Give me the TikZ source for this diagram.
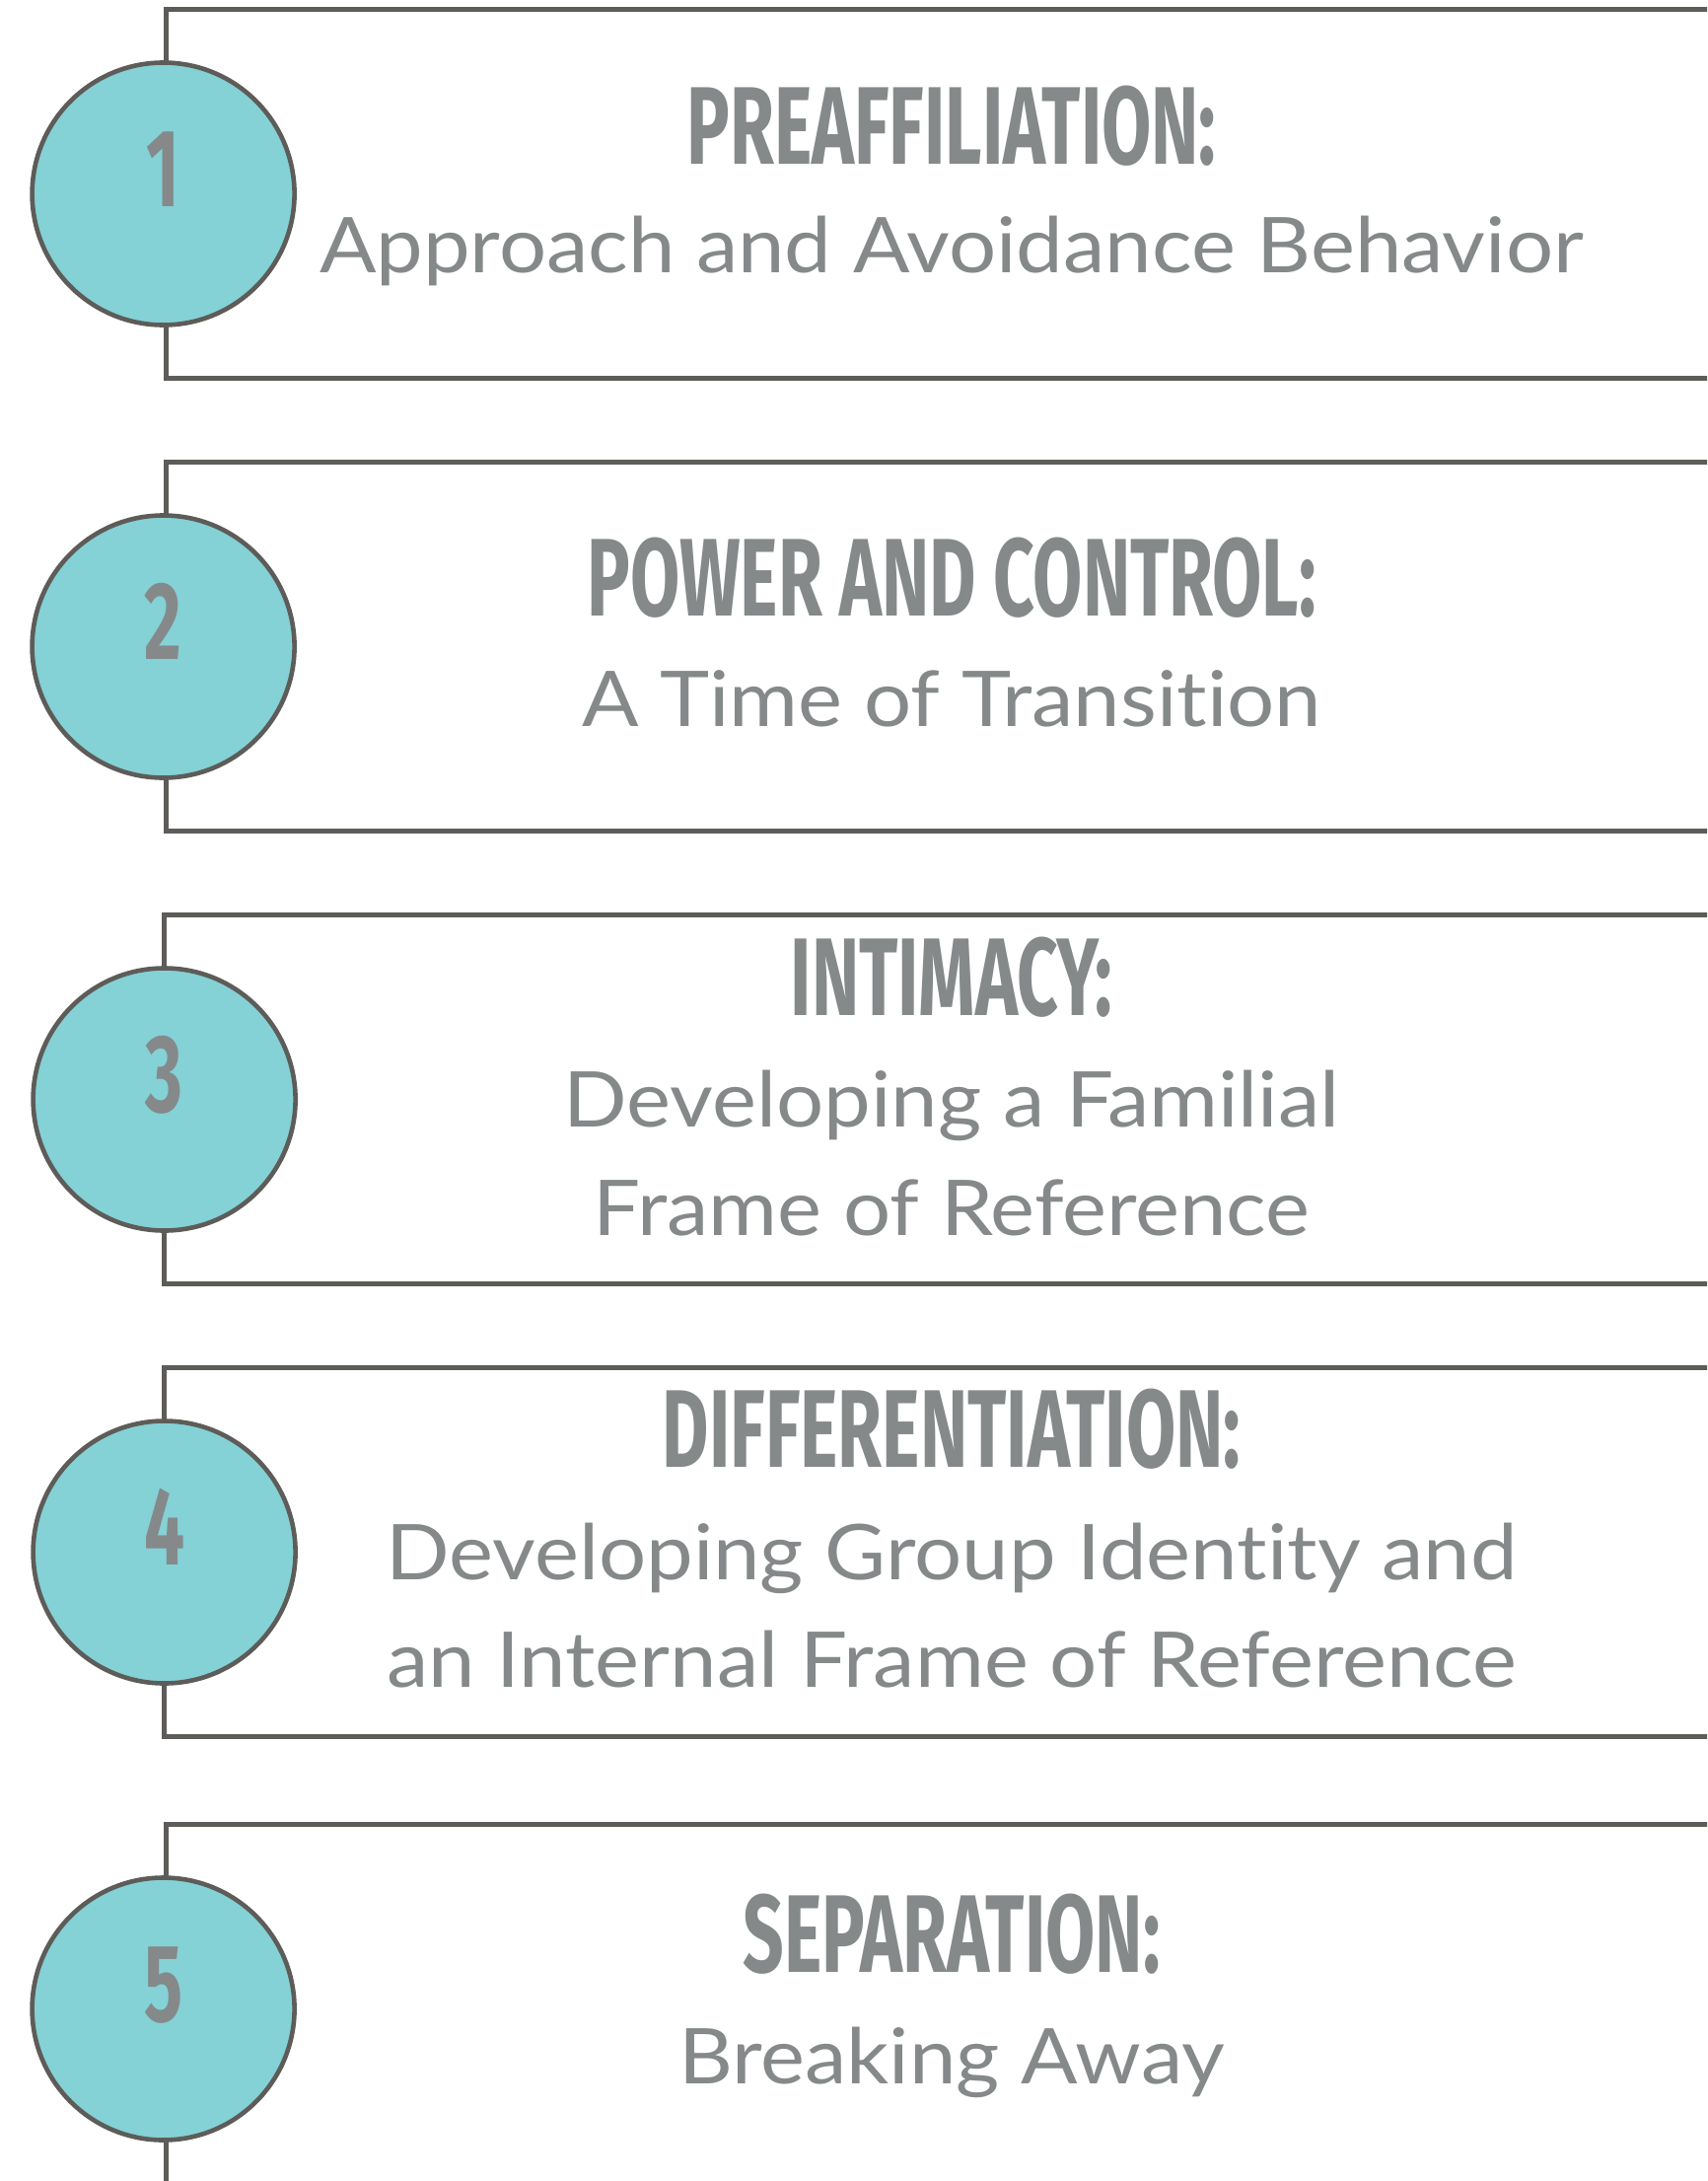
\documentclass[tikz,border=0pt]{standalone}
\usepackage{fontspec}
\setmainfont[Ligatures=NoCommon, FakeStretch=1.09]{Lato}
\newfontfamily\headfont[FakeStretch=0.65]{Fira Sans}
\usetikzlibrary{positioning}
\definecolor{framegray}{HTML}{5E5C58}
\definecolor{stagecyan}{HTML}{84D1D6}
\definecolor{textgray}{HTML}{85898A}
\tikzset{
  frame/.style={draw=framegray, line width=2.3pt},
  stagebox/.style={rectangle, inner sep=0pt, minimum width=795.5pt, minimum height=186.5pt},
  stagedot/.style={circle, draw=framegray, line width=2.3pt, fill=stagecyan, minimum size=133pt, inner sep=0pt},
  stagenum/.style={anchor=base, inner sep=0pt, text=textgray, font=\headfont\bfseries\fontsize{56}{56}\selectfont},
  stagetitle/.style={anchor=base, inner sep=0pt, text=textgray, font=\headfont\bfseries\fontsize{56}{56}\selectfont},
  stagetext/.style={anchor=base, inner sep=0pt, text=textgray, font=\fontsize{39}{39}\selectfont}
}

\begin{document}
\begin{tikzpicture}[x=0.5pt, y=-0.5pt]
      \clip (0,0) rectangle (1731,2211);
      \fill[white] (0,0) rectangle (1731,2211);
      % boxes
      \node[stagebox] (b1) at (964.5,196.5) {};
      \node[stagebox] (b2) at (964.5,655.5) {};
      \node[stagebox] (b3) at (962.5,1114.5) {};
      \node[stagebox] (b4) at (962.5,1573.5) {};
      \node[stagebox] (b5) at (964.5,2036.5) {};
      \draw[frame] (b1.north east) -| (b1.south west) -- (b1.south east);
      \draw[frame] (b2.north east) -| (b2.south west) -- (b2.south east);
      \draw[frame] (b3.north east) -| (b3.south west) -- (b3.south east);
      \draw[frame] (b4.north east) -| (b4.south west) -- (b4.south east);
      \draw[frame] (b5.north east) -| (b5.south west) -- (b5.south east);
      % circles
      \node[stagedot] (c1) at ([xshift=-1.5pt]b1.west) {};
      \node[stagedot] (c2) at ([xshift=-1.5pt]b2.west) {};
      \node[stagedot] (c3) at (b3.west) {};
      \node[stagedot] (c4) at (b4.west) {};
      \node[stagedot] (c5) at ([xshift=-1.5pt]b5.west) {};
      \node[stagenum] (k1) at ([yshift=-6.5pt]c1.center) {1};
      \node[stagenum] (k2) at ([yshift=-6.5pt]c2.center) {2};
      \node[stagenum] (k3) at ([yshift=-6.5pt]c3.center) {3};
      \node[stagenum] (k4) at ([yshift=-6.5pt]c4.center) {4};
      \node[stagenum] (k5) at ([yshift=-6.5pt]c5.center) {5};
      % titles
      \node[stagetitle] (t1) at (965,166) {PREAFFILIATION:};
      \node[stagetitle] (t2) at (965,624) {POWER AND CONTROL:};
      \node[stagetitle] (t3) at (965,1029) {INTIMACY:};
      \node[stagetitle] (t4) at (965,1487) {DIFFERENTIATION:};
      \node[stagetitle] (t5) at (965,1999) {SEPARATION:};
      % subtitles
      \node[stagetext] (s1) at (965,276) {Approach and Avoidance Behavior};
      \node[stagetext] (s2) at (965,736) {A Time of Transition};
      \node[stagetext] (s3a) at (965,1142) {Developing a Familial};
      \node[stagetext] (s3b) at (965,1252) {Frame of Reference};
      \node[stagetext] (s4a) at (965,1601) {Developing Group Identity and};
      \node[stagetext] (s4b) at (965,1710) {an Internal Frame of Reference};
      \node[stagetext] (s5) at (965,2112) {Breaking Away};
\end{tikzpicture}
\end{document}
